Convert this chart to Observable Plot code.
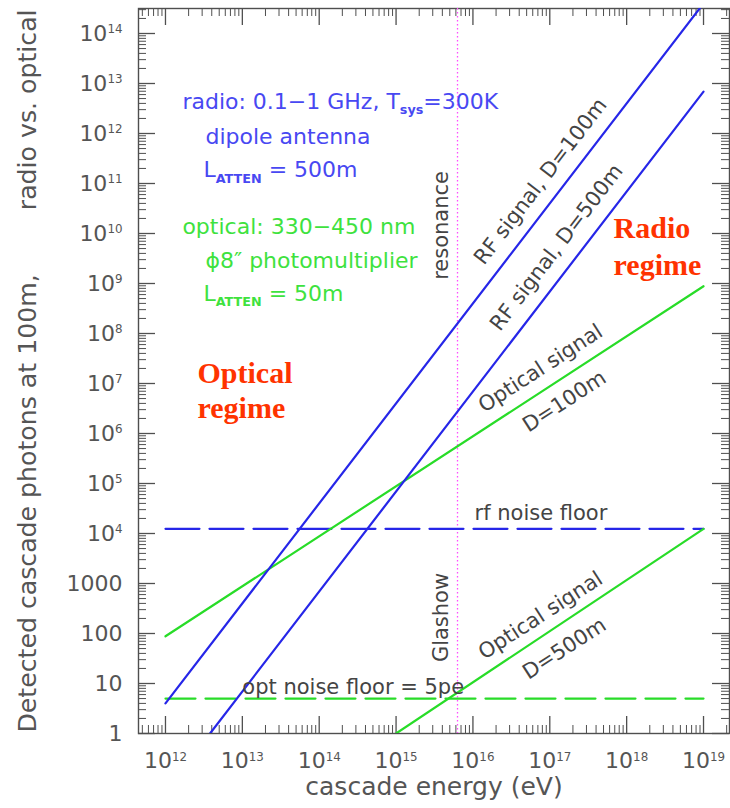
<!DOCTYPE html>
<html><head><meta charset="utf-8">
<script src="https://cdn.jsdelivr.net/npm/d3@7"></script>
<script src="https://cdn.jsdelivr.net/npm/@observablehq/plot@0.6"></script>
<style>
html,body{margin:0;padding:0;background:#fff;}
#chart{width:730px;height:808px;}
</style>
</head><body><div id="chart"></div>
<script>
// ---------- data ----------
const xMajorExp = [12, 13, 14, 15, 16, 17, 18, 19];
const yMajorValues = [1, 10, 100, 1000, 1e4, 1e5, 1e6, 1e7, 1e8, 1e9, 1e10, 1e11, 1e12, 1e13, 1e14];
const minorMultipliers = [2, 3, 4, 5, 6, 7, 8, 9];

const rf100Energy = [1e12, 1e19];
const rf100Photons = [4, 4e14];
const rf500Energy = [3.8e12, 1e19];
const rf500Photons = [1, 6.9e12];
const opt100Energy = [1e12, 1e19];
const opt100Photons = [88, 8.8e8];
const opt500Energy = [1e15, 1e19];
const opt500Photons = [1, 1.24e4];
const floorEnergy = [1e12, 1e19];
const rfNoiseFloor = [1.24e4, 1.24e4];
const optNoiseFloor = [5, 5];
const glashowEnergy = [6.3e15];

const radioNotes = ["radio: 0.1\u22121 GHz, T_{sys}=300K", "dipole antenna", "L_{ATTEN} = 500m"];
const radioNoteE = [1.66e12, 3.31e12, 3.12e12];
const radioNoteN = [3.16e12, 6.3e11, 1.32e11];
const opticalNotes = ["optical: 330\u2212450 nm", "\u03D58\u2033 photomultiplier", "L_{ATTEN} = 50m"];
const opticalNoteE = [1.66e12, 3.31e12, 3.12e12];
const opticalNoteN = [1e10, 2.0e9, 4.57e8];

const lineLabels = ["RF signal, D=100m", "RF signal, D=500m", "Optical signal", "D=100m", "Optical signal", "D=500m"];
const lineLabelE = [7.57e16, 1.22e17, 7.57e16, 1.55e17, 7.57e16, 1.55e17];
const lineLabelN = [1.1e11, 5.25e9, 2.0e7, 4.37e6, 229, 50];
const lineLabelAngle = [-52.5, -52.5, -33, -33, -33, -33];

const vertLabels = ["resonance", "Glashow"];
const vertLabelE = [3.9e15, 3.9e15];
const vertLabelN = [1.45e10, 209];

const floorLabels = ["rf noise floor", "opt noise floor = 5pe"];
const floorLabelE = [1.05e16, 1.0e13];
const floorLabelN = [1.82e4, 6.3];

const regimeLabels = ["Optical\nregime", "Radio\nregime"];
const regimeLabelE = [2.61e12, 6.75e17];
const regimeLabelN = [2.0e6, 1.45e9];

const xTitle = "cascade energy (eV)";
const yTitle = "Detected cascade photons at 100m," + "\u00A0".repeat(8) + "radio vs. optical";

// ---------- helpers ----------
const xDomain = [10 ** 11.649, 10 ** 19.338];
const yDomain = [1, 10 ** 14.5];
const W = 730, H = 808, mL = 138, mR = 1, mT = 8, mB = 75;
const frameW = W - mL - mR, frameH = H - mT - mB;

const xMajor = xMajorExp.map(e => 10 ** e);
const xMinor = d3.range(11, 20).flatMap(k => minorMultipliers.map(m => m * 10 ** k))
  .filter(v => v > xDomain[0] && v < xDomain[1]);
const yMinor = d3.range(0, 15).flatMap(k => minorMultipliers.map(m => m * 10 ** k))
  .filter(v => v > yDomain[0] && v < yDomain[1]);

const zip = (E, N) => E.map((e, i) => ({e, n: N[i]}));
const zipText = (T, E, N, A) => T.map((t, i) => ({t, e: E[i], n: N[i], a: A ? A[i] : 0}));

const fmt = d => {
  const e = Math.round(Math.log10(d));
  return e <= 3 ? String(Math.round(d)) : `10^{${e}}`;
};

const BLUE = "#2626e8", GREEN = "#28dc28", TXT = "#444444", TICK = "#555555", AX = "#4f4f4f";
const MAJ = 17, MIN = 8;

const chart = Plot.plot({
  width: W, height: H,
  marginLeft: mL, marginRight: mR, marginTop: mT, marginBottom: mB,
  style: {fontFamily: "DejaVu Sans", fontSize: "21px", color: TXT, background: "#fff"},
  x: {type: "log", domain: xDomain},
  y: {type: "log", domain: yDomain},
  marks: [
    // ticks (inward, all four sides)
    Plot.ruleX(xMajor, {stroke: AX, strokeWidth: 1.3, insetTop: frameH - MAJ}),
    Plot.ruleX(xMinor, {stroke: AX, strokeWidth: 1, insetTop: frameH - MIN}),
    Plot.ruleX(xMajor, {stroke: AX, strokeWidth: 1.3, insetBottom: frameH - MAJ}),
    Plot.ruleX(xMinor, {stroke: AX, strokeWidth: 1, insetBottom: frameH - MIN}),
    Plot.ruleY(yMajorValues, {stroke: AX, strokeWidth: 1.3, insetRight: frameW - MAJ}),
    Plot.ruleY(yMinor, {stroke: AX, strokeWidth: 1, insetRight: frameW - MIN}),
    Plot.ruleY(yMajorValues, {stroke: AX, strokeWidth: 1.3, insetLeft: frameW - MAJ}),
    Plot.ruleY(yMinor, {stroke: AX, strokeWidth: 1, insetLeft: frameW - MIN}),
    Plot.frame({stroke: AX, strokeWidth: 1.4}),
    Plot.axisX(xMajor, {tickSize: 0, tickPadding: 19, tickFormat: fmt, fontSize: 22, label: null, fill: TICK}),
    Plot.axisY(yMajorValues, {tickSize: 0, tickPadding: 16, tickFormat: fmt, fontSize: 22, label: null, fill: TICK}),
    Plot.text([xTitle], {frameAnchor: "bottom", textAnchor: "middle", dy: 61, lineAnchor: "bottom", fontSize: 25, fill: TICK, text: d => d}),
    Plot.text([yTitle], {frameAnchor: "left", textAnchor: "middle", dx: -103, rotate: -90, lineAnchor: "bottom", fontSize: 25.2, fill: TICK, text: d => d}),

    // Glashow resonance
    Plot.ruleX(glashowEnergy, {stroke: "#ff4cff", strokeWidth: 1.3, strokeDasharray: "1.5,2.5"}),

    // noise floors
    Plot.line(zip(floorEnergy, rfNoiseFloor), {x: "e", y: "n", stroke: BLUE, strokeWidth: 2.2, strokeDasharray: "34,10"}),
    Plot.line(zip(floorEnergy, optNoiseFloor), {x: "e", y: "n", stroke: GREEN, strokeWidth: 2.2, strokeDasharray: "30,10"}),

    // signals
    Plot.line(zip(opt100Energy, opt100Photons), {x: "e", y: "n", stroke: GREEN, strokeWidth: 2.2, clip: true}),
    Plot.line(zip(opt500Energy, opt500Photons), {x: "e", y: "n", stroke: GREEN, strokeWidth: 2.2, clip: true}),
    Plot.line(zip(rf100Energy, rf100Photons), {x: "e", y: "n", stroke: BLUE, strokeWidth: 2.2, clip: true}),
    Plot.line(zip(rf500Energy, rf500Photons), {x: "e", y: "n", stroke: BLUE, strokeWidth: 2.2, clip: true}),

    // annotations
    Plot.text(zipText(radioNotes, radioNoteE, radioNoteN), {x: "e", y: "n", text: "t", textAnchor: "start", lineAnchor: "bottom", fill: "#4848f2", fontSize: 22}),
    Plot.text(zipText(opticalNotes, opticalNoteE, opticalNoteN), {x: "e", y: "n", text: "t", textAnchor: "start", lineAnchor: "bottom", fill: "#3ee23e", fontSize: 22}),
    Plot.text(zipText(lineLabels, lineLabelE, lineLabelN, lineLabelAngle), {x: "e", y: "n", text: "t", rotate: "a", textAnchor: "middle", lineAnchor: "middle", fill: TXT, fontSize: 21}),
    Plot.text(zipText(vertLabels, vertLabelE, vertLabelN), {x: "e", y: "n", text: "t", rotate: -90, textAnchor: "middle", lineAnchor: "middle", fill: TXT, fontSize: 21}),
    Plot.text(zipText(floorLabels, floorLabelE, floorLabelN), {x: "e", y: "n", text: "t", textAnchor: "start", lineAnchor: "bottom", fill: TXT, fontSize: 21}),
    Plot.text(zipText(regimeLabels.slice(0, 1), regimeLabelE.slice(0, 1), regimeLabelN.slice(0, 1)), {x: "e", y: "n", text: "t", textAnchor: "start", lineAnchor: "bottom", lineHeight: 1.167, fill: "#ff3300", fontSize: 30, fontWeight: "bold", fontFamily: "Liberation Serif"}),
    Plot.text(zipText(regimeLabels.slice(1), regimeLabelE.slice(1), regimeLabelN.slice(1)), {x: "e", y: "n", text: "t", textAnchor: "start", lineAnchor: "bottom", lineHeight: 1.233, fill: "#ff3300", fontSize: 30, fontWeight: "bold", fontFamily: "Liberation Serif"})
  ]
});

// turn ^{..} and _{..} markup into real super/subscript tspans
function richify(root) {
  root.querySelectorAll("text").forEach(t => {
    if (t.querySelector("tspan")) return;
    const s = t.textContent;
    if (!/[_^]\{/.test(s)) return;
    const parts = s.split(/([_^]\{[^}]*\})/).filter(p => p !== "");
    t.textContent = "";
    let shift = 0;
    for (const p of parts) {
      const ts = document.createElementNS("http://www.w3.org/2000/svg", "tspan");
      const m = p.match(/^([_^])\{([^}]*)\}$/);
      if (m) {
        const sup = m[1] === "^";
        const size = sup ? 0.54 : 0.58;
        const target = sup ? -0.34 : 0.24;
        ts.setAttribute("font-size", size + "em");
        ts.setAttribute("dy", ((target - shift) / size) + "em");
        if (!sup) ts.setAttribute("font-weight", "bold");
        ts.textContent = m[2];
        shift = target;
      } else {
        if (shift !== 0) ts.setAttribute("dy", (-shift) + "em");
        ts.textContent = p;
        shift = 0;
      }
      t.appendChild(ts);
    }
  });
}
richify(chart);
document.getElementById("chart").appendChild(chart);
</script>
</body></html>
